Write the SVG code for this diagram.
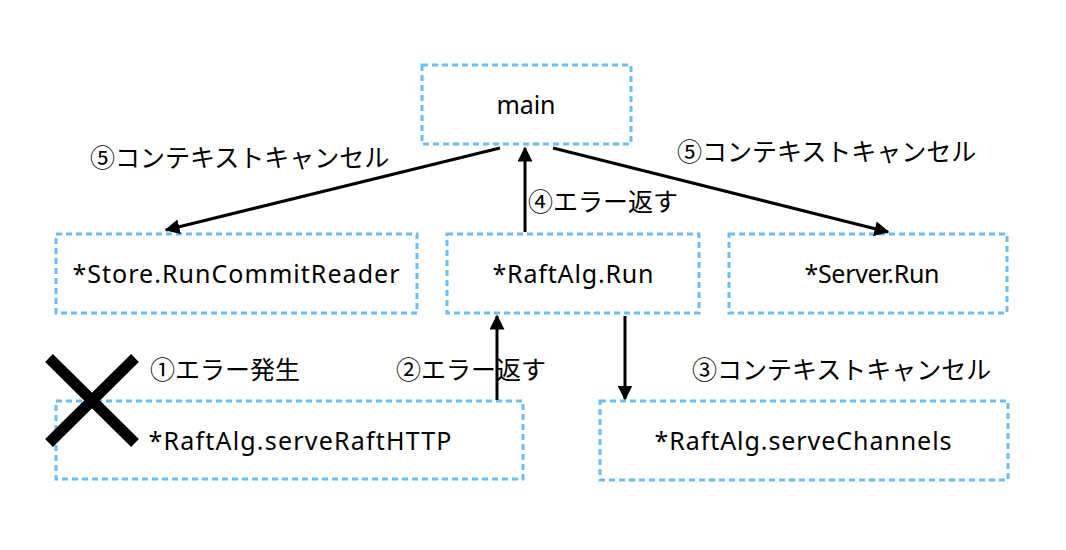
<svg xmlns="http://www.w3.org/2000/svg" width="1066" height="550" viewBox="0 0 1066 550">
<style>
.box{fill:#fff;stroke:#6cbcf5;stroke-width:3;stroke-dasharray:6 4}
.t{font-family:"Noto Sans","Noto Sans CJK JP",sans-serif;font-size:25px;fill:#000;text-anchor:middle;dominant-baseline:central}
.l{font-family:"Noto Sans CJK JP","Noto Sans",sans-serif;font-size:25px;fill:#000;dominant-baseline:central}
.c{stroke:#000;stroke-width:3;fill:none;marker-end:url(#ah)}
</style>
<defs>
<marker id="ah" viewBox="0 0 10 10" refX="9" refY="5" markerWidth="5" markerHeight="5" orient="auto" markerUnits="strokeWidth">
<path d="M0,0 L10,5 L0,10 z" fill="#000"/>
</marker>
</defs>
<rect width="1066" height="550" fill="#fff"/>
<g id="main"><rect class="box" x="422" y="65" width="209" height="79"/><text class="t" x="526" y="104" textLength="59" lengthAdjust="spacing">main</text></g>
<g id="store"><rect class="box" x="56" y="234" width="361" height="79"/><text class="t" x="236" y="273" textLength="327" lengthAdjust="spacing">*Store.RunCommitReader</text></g>
<g id="raftrun"><rect class="box" x="447" y="234" width="252" height="79"/><text class="t" x="573" y="273" textLength="161" lengthAdjust="spacing">*RaftAlg.Run</text></g>
<g id="serverrun"><rect class="box" x="729" y="234" width="278" height="79"/><text class="t" x="872" y="273" textLength="135" lengthAdjust="spacing">*Server.Run</text></g>
<g id="servehttp"><rect class="box" x="56" y="401" width="467" height="78"/><text class="t" x="300" y="440" textLength="303" lengthAdjust="spacing">*RaftAlg.serveRaftHTTP</text></g>
<g id="servechan"><rect class="box" x="600" y="401" width="408" height="79"/><text class="t" x="803" y="440" textLength="297" lengthAdjust="spacing">*RaftAlg.serveChannels</text></g>
<g id="cross"><path d="M49,358 L135,443 M49,443 L135,358" stroke="#000" stroke-width="11"/></g>
<g id="connectors">
<line class="c" x1="500" y1="148" x2="166" y2="230"/>
<line class="c" x1="525" y1="232" x2="525" y2="148"/>
<line class="c" x1="553" y1="148" x2="888" y2="232"/>
<line class="c" x1="497" y1="400" x2="497" y2="316"/>
<line class="c" x1="625" y1="316" x2="625" y2="399"/>
</g>
<g id="labels">
<text class="l" x="90" y="156">⑤コンテキストキャンセル</text>
<text class="l" x="677" y="150">⑤コンテキストキャンセル</text>
<text class="l" x="528" y="200">④エラー返す</text>
<text class="l" x="150" y="368">①エラー発生</text>
<text class="l" x="396" y="368">②エラー返す</text>
<text class="l" x="692" y="368">③コンテキストキャンセル</text>
</g>
</svg>
